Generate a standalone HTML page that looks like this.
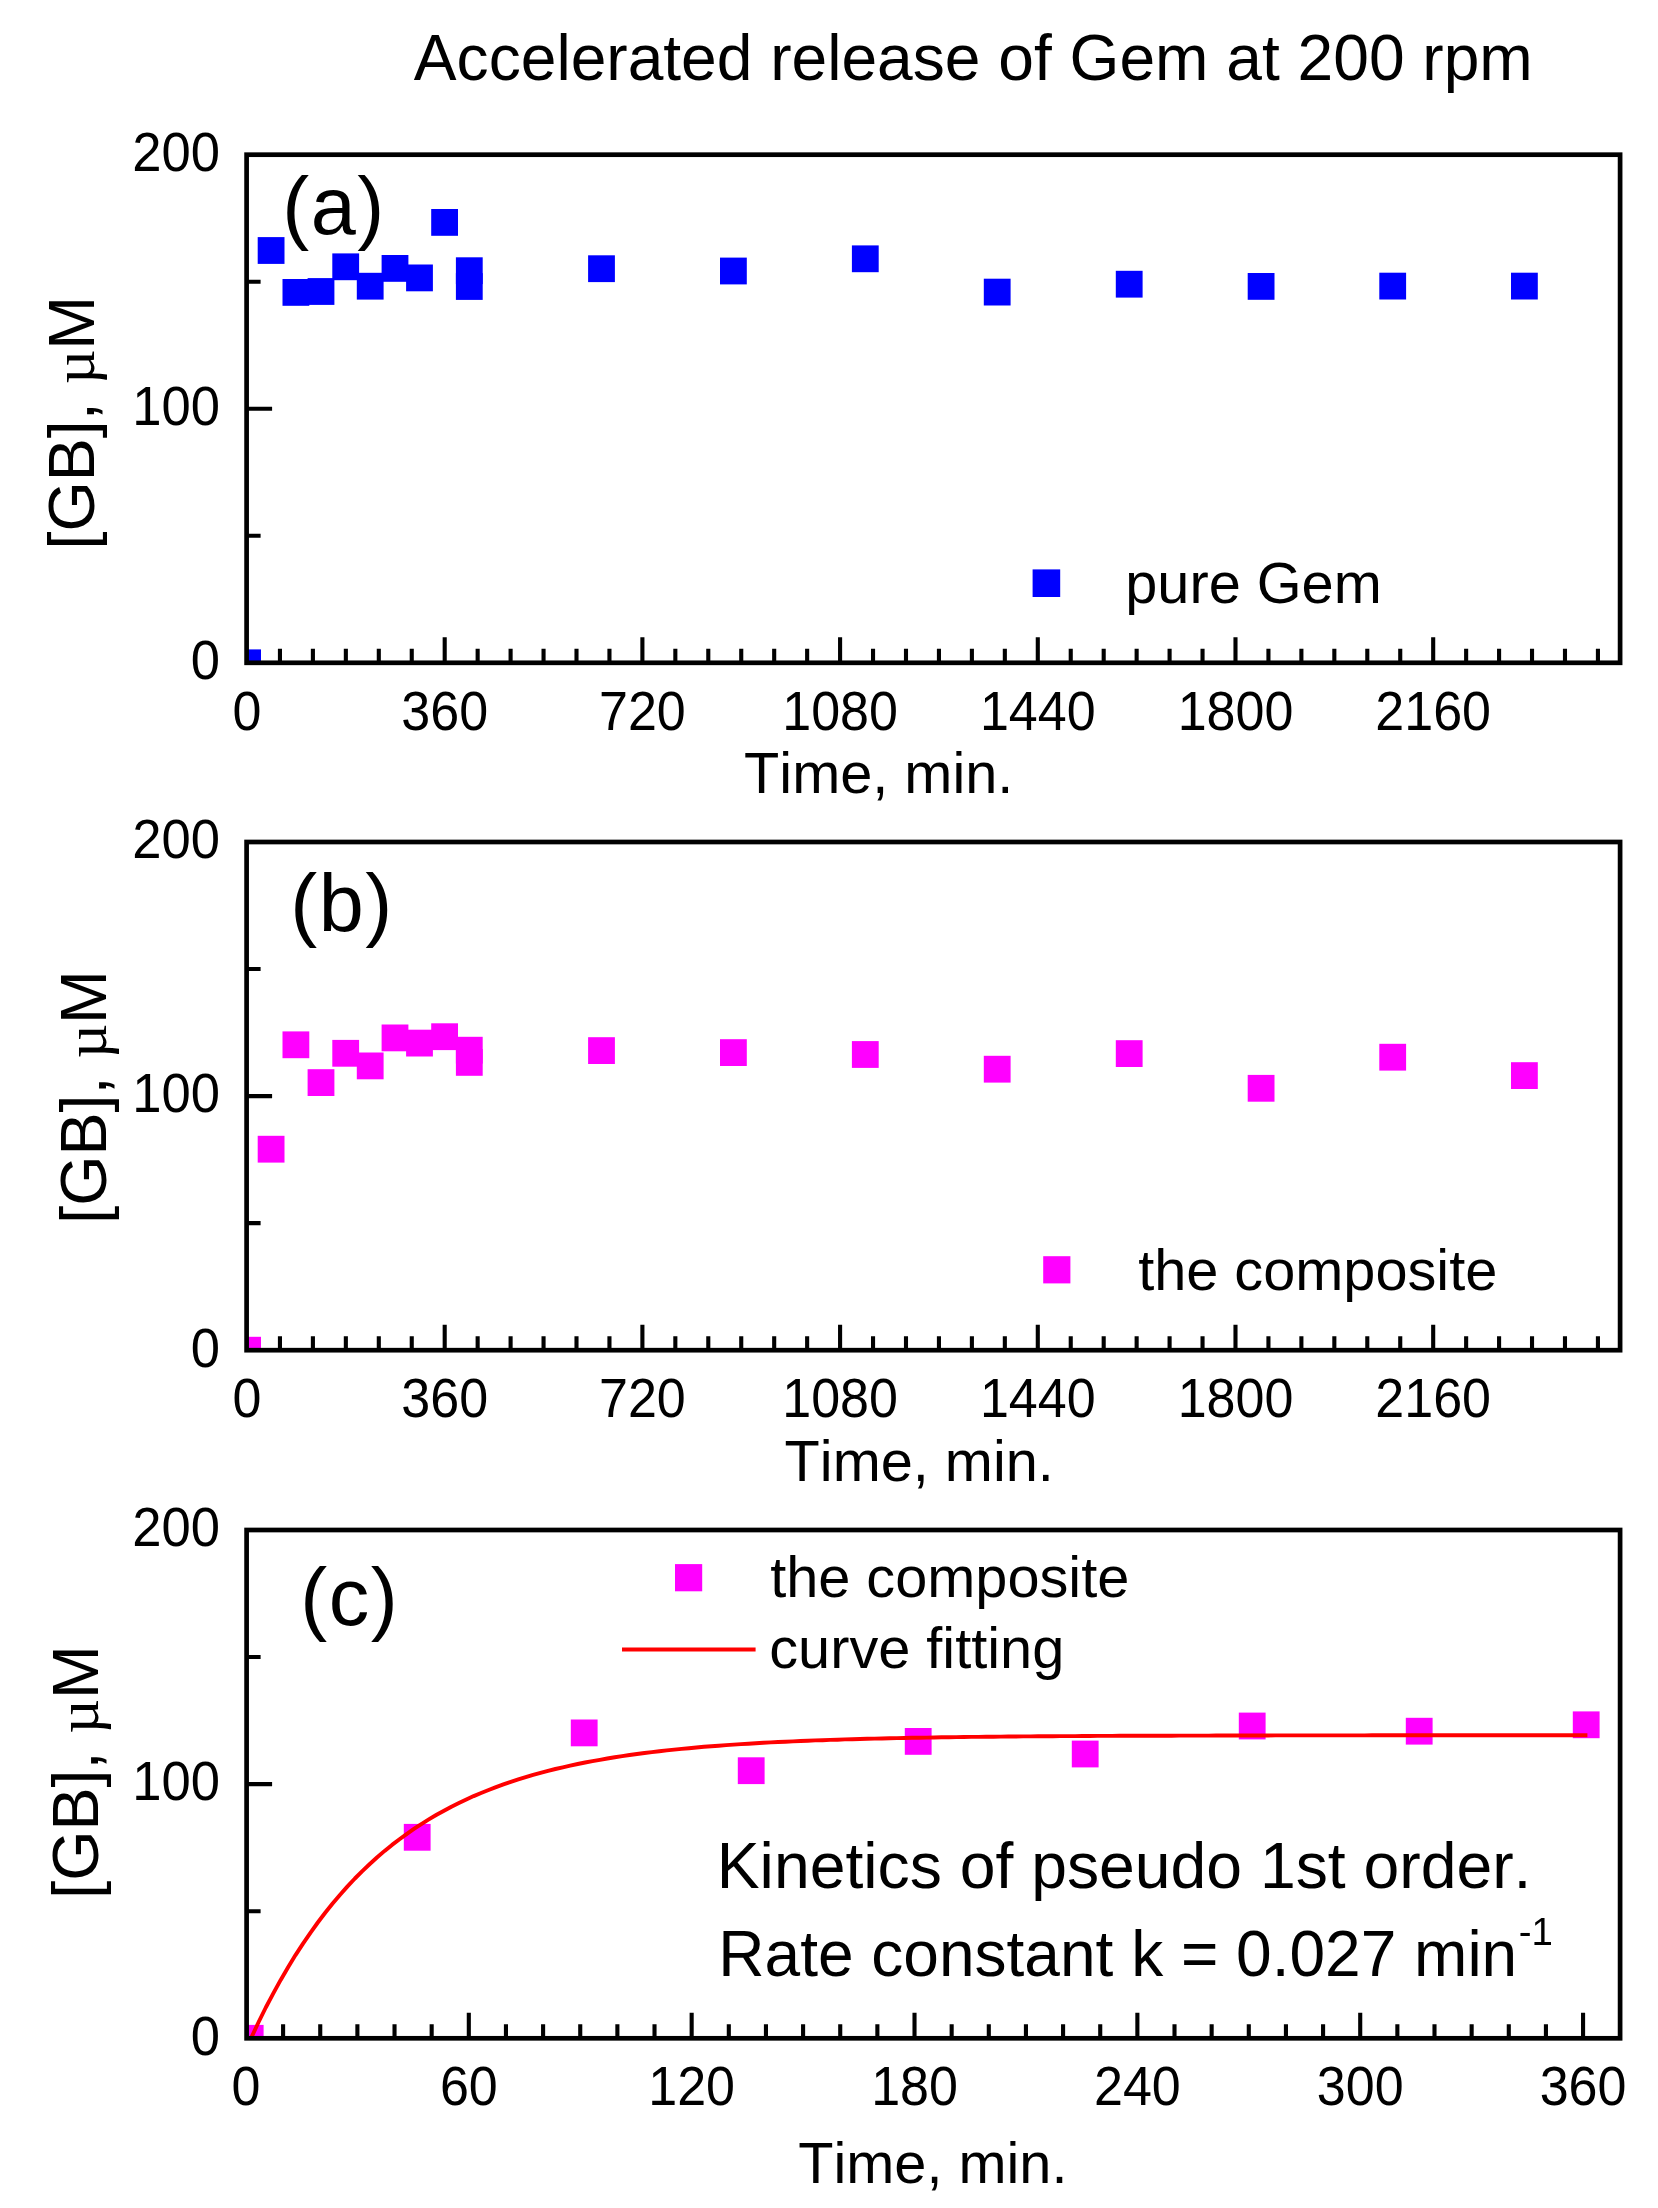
<!DOCTYPE html>
<html lang="en"><head><meta charset="utf-8"><title>Accelerated release of Gem at 200 rpm</title>
<style>
html,body{margin:0;padding:0;background:#fff}
body{width:1658px;height:2208px;overflow:hidden}
svg{display:block;filter:blur(0.55px)}
svg text{font-family:"Liberation Sans", sans-serif;fill:#000;font-kerning:none;white-space:pre}
</style></head><body>
<svg width="1658" height="2208" viewBox="0 0 1658 2208">
<rect width="1658" height="2208" fill="#fff"/>
<text x="413.87" y="80.40" font-size="64.13">Accelerated release of Gem at 200 rpm</text>
<g id="panel-a">
<clipPath id="clipa"><rect x="246.6" y="154.7" width="1373.5" height="508.09999999999997"/></clipPath>
<g clip-path="url(#clipa)">
<rect x="234.20" y="649.40" width="26.80" height="26.80" fill="#0000ff"/>
<rect x="257.70" y="237.10" width="26.80" height="26.80" fill="#0000ff"/>
<rect x="282.50" y="279.00" width="26.80" height="26.80" fill="#0000ff"/>
<rect x="307.60" y="278.10" width="26.80" height="26.80" fill="#0000ff"/>
<rect x="332.30" y="253.40" width="26.80" height="26.80" fill="#0000ff"/>
<rect x="356.80" y="272.80" width="26.80" height="26.80" fill="#0000ff"/>
<rect x="381.60" y="255.00" width="26.80" height="26.80" fill="#0000ff"/>
<rect x="406.10" y="264.50" width="26.80" height="26.80" fill="#0000ff"/>
<rect x="431.20" y="209.00" width="26.80" height="26.80" fill="#0000ff"/>
<rect x="455.90" y="257.30" width="26.80" height="26.80" fill="#0000ff"/>
<rect x="455.90" y="273.10" width="26.80" height="26.80" fill="#0000ff"/>
<rect x="588.10" y="255.30" width="26.80" height="26.80" fill="#0000ff"/>
<rect x="720.00" y="257.60" width="26.80" height="26.80" fill="#0000ff"/>
<rect x="851.90" y="245.40" width="26.80" height="26.80" fill="#0000ff"/>
<rect x="983.80" y="278.70" width="26.80" height="26.80" fill="#0000ff"/>
<rect x="1115.80" y="270.80" width="26.80" height="26.80" fill="#0000ff"/>
<rect x="1247.70" y="273.00" width="26.80" height="26.80" fill="#0000ff"/>
<rect x="1379.30" y="272.70" width="26.80" height="26.80" fill="#0000ff"/>
<rect x="1511.00" y="272.70" width="26.80" height="26.80" fill="#0000ff"/>
</g>
<path d="M279.95 662.80V648.80M312.90 662.80V648.80M345.85 662.80V648.80M378.80 662.80V648.80M411.75 662.80V648.80M444.70 662.80V637.30M477.65 662.80V648.80M510.60 662.80V648.80M543.55 662.80V648.80M576.50 662.80V648.80M609.45 662.80V648.80M642.40 662.80V637.30M675.34 662.80V648.80M708.29 662.80V648.80M741.24 662.80V648.80M774.19 662.80V648.80M807.14 662.80V648.80M840.09 662.80V637.30M873.04 662.80V648.80M905.99 662.80V648.80M938.94 662.80V648.80M971.89 662.80V648.80M1004.84 662.80V648.80M1037.79 662.80V637.30M1070.74 662.80V648.80M1103.69 662.80V648.80M1136.64 662.80V648.80M1169.59 662.80V648.80M1202.54 662.80V648.80M1235.49 662.80V637.30M1268.44 662.80V648.80M1301.39 662.80V648.80M1334.34 662.80V648.80M1367.29 662.80V648.80M1400.24 662.80V648.80M1433.19 662.80V637.30M1466.14 662.80V648.80M1499.08 662.80V648.80M1532.03 662.80V648.80M1564.98 662.80V648.80M1597.93 662.80V648.80M246.60 535.77H260.60M246.60 408.75H272.10M246.60 281.72H260.60" fill="none" stroke="#000" stroke-width="4.1"/>
<rect x="246.60" y="154.70" width="1373.50" height="508.10" fill="none" stroke="#000" stroke-width="4.7"/>
<text transform="translate(132.29 171.00) scale(1 1.045)" font-size="52.60">200</text>
<text transform="translate(132.29 425.05) scale(1 1.045)" font-size="52.60">100</text>
<text transform="translate(190.80 679.10) scale(1 1.045)" font-size="52.60">0</text>
<text transform="translate(232.54 729.70) scale(1 1.06)" font-size="52.0">0</text>
<text transform="translate(401.32 729.70) scale(1 1.06)" font-size="52.0">360</text>
<text transform="translate(599.02 729.70) scale(1 1.06)" font-size="52.0">720</text>
<text transform="translate(782.25 729.70) scale(1 1.06)" font-size="52.0">1080</text>
<text transform="translate(979.95 729.70) scale(1 1.06)" font-size="52.0">1440</text>
<text transform="translate(1177.65 729.70) scale(1 1.06)" font-size="52.0">1800</text>
<text transform="translate(1375.35 729.70) scale(1 1.06)" font-size="52.0">2160</text>
<text x="744.10" y="793.30" font-size="57.70">Time, min.</text>
<text x="282.28" y="234.00" font-size="81.00" letter-spacing="1.5">(a)</text>
<rect x="1032.60" y="569.40" width="27.60" height="27.60" fill="#0000ff"/>
<text x="1125.28" y="603.20" font-size="57.70">pure Gem</text>
<text transform="translate(94.1 549.41) rotate(-90)" font-size="64.6">[GB], <tspan font-family="'Liberation Serif', serif" font-size="60.1">µ</tspan>M</text>
</g>
<g id="panel-b">
<clipPath id="clipb"><rect x="246.6" y="842.0" width="1373.5" height="508.20000000000005"/></clipPath>
<g clip-path="url(#clipb)">
<rect x="234.20" y="1336.80" width="26.80" height="26.80" fill="#ff00ff"/>
<rect x="257.70" y="1135.80" width="26.80" height="26.80" fill="#ff00ff"/>
<rect x="282.50" y="1031.40" width="26.80" height="26.80" fill="#ff00ff"/>
<rect x="307.60" y="1069.20" width="26.80" height="26.80" fill="#ff00ff"/>
<rect x="332.30" y="1039.90" width="26.80" height="26.80" fill="#ff00ff"/>
<rect x="356.80" y="1052.50" width="26.80" height="26.80" fill="#ff00ff"/>
<rect x="381.60" y="1024.50" width="26.80" height="26.80" fill="#ff00ff"/>
<rect x="406.10" y="1029.70" width="26.80" height="26.80" fill="#ff00ff"/>
<rect x="431.20" y="1023.30" width="26.80" height="26.80" fill="#ff00ff"/>
<rect x="455.90" y="1036.80" width="26.80" height="26.80" fill="#ff00ff"/>
<rect x="455.90" y="1049.00" width="26.80" height="26.80" fill="#ff00ff"/>
<rect x="588.10" y="1037.20" width="26.80" height="26.80" fill="#ff00ff"/>
<rect x="720.00" y="1039.20" width="26.80" height="26.80" fill="#ff00ff"/>
<rect x="851.90" y="1041.10" width="26.80" height="26.80" fill="#ff00ff"/>
<rect x="983.80" y="1055.80" width="26.80" height="26.80" fill="#ff00ff"/>
<rect x="1115.80" y="1040.20" width="26.80" height="26.80" fill="#ff00ff"/>
<rect x="1247.70" y="1074.90" width="26.80" height="26.80" fill="#ff00ff"/>
<rect x="1379.30" y="1043.80" width="26.80" height="26.80" fill="#ff00ff"/>
<rect x="1511.00" y="1062.20" width="26.80" height="26.80" fill="#ff00ff"/>
</g>
<path d="M279.95 1350.20V1336.20M312.90 1350.20V1336.20M345.85 1350.20V1336.20M378.80 1350.20V1336.20M411.75 1350.20V1336.20M444.70 1350.20V1324.70M477.65 1350.20V1336.20M510.60 1350.20V1336.20M543.55 1350.20V1336.20M576.50 1350.20V1336.20M609.45 1350.20V1336.20M642.40 1350.20V1324.70M675.34 1350.20V1336.20M708.29 1350.20V1336.20M741.24 1350.20V1336.20M774.19 1350.20V1336.20M807.14 1350.20V1336.20M840.09 1350.20V1324.70M873.04 1350.20V1336.20M905.99 1350.20V1336.20M938.94 1350.20V1336.20M971.89 1350.20V1336.20M1004.84 1350.20V1336.20M1037.79 1350.20V1324.70M1070.74 1350.20V1336.20M1103.69 1350.20V1336.20M1136.64 1350.20V1336.20M1169.59 1350.20V1336.20M1202.54 1350.20V1336.20M1235.49 1350.20V1324.70M1268.44 1350.20V1336.20M1301.39 1350.20V1336.20M1334.34 1350.20V1336.20M1367.29 1350.20V1336.20M1400.24 1350.20V1336.20M1433.19 1350.20V1324.70M1466.14 1350.20V1336.20M1499.08 1350.20V1336.20M1532.03 1350.20V1336.20M1564.98 1350.20V1336.20M1597.93 1350.20V1336.20M246.60 1223.15H260.60M246.60 1096.10H272.10M246.60 969.05H260.60" fill="none" stroke="#000" stroke-width="4.1"/>
<rect x="246.60" y="842.00" width="1373.50" height="508.20" fill="none" stroke="#000" stroke-width="4.7"/>
<text transform="translate(132.29 858.30) scale(1 1.045)" font-size="52.60">200</text>
<text transform="translate(132.29 1112.40) scale(1 1.045)" font-size="52.60">100</text>
<text transform="translate(190.80 1366.50) scale(1 1.045)" font-size="52.60">0</text>
<text transform="translate(232.54 1417.10) scale(1 1.06)" font-size="52.0">0</text>
<text transform="translate(401.32 1417.10) scale(1 1.06)" font-size="52.0">360</text>
<text transform="translate(599.02 1417.10) scale(1 1.06)" font-size="52.0">720</text>
<text transform="translate(782.25 1417.10) scale(1 1.06)" font-size="52.0">1080</text>
<text transform="translate(979.95 1417.10) scale(1 1.06)" font-size="52.0">1440</text>
<text transform="translate(1177.65 1417.10) scale(1 1.06)" font-size="52.0">1800</text>
<text transform="translate(1375.35 1417.10) scale(1 1.06)" font-size="52.0">2160</text>
<text x="784.60" y="1480.90" font-size="57.70">Time, min.</text>
<text x="290.28" y="931.00" font-size="81.00" letter-spacing="1.5">(b)</text>
<rect x="1043.20" y="1256.20" width="27.20" height="27.20" fill="#ff00ff"/>
<text x="1138.13" y="1289.80" font-size="57.70">the composite</text>
<text transform="translate(106.3 1223.71) rotate(-90)" font-size="64.6">[GB], <tspan font-family="'Liberation Serif', serif" font-size="60.1">µ</tspan>M</text>
</g>
<g id="panel-c">
<clipPath id="clipc"><rect x="246.6" y="1530.0" width="1373.5" height="508.29999999999995"/></clipPath>
<g clip-path="url(#clipc)">
<rect x="236.80" y="2024.90" width="26.80" height="26.80" fill="#ff00ff"/>
<rect x="403.80" y="1823.90" width="26.80" height="26.80" fill="#ff00ff"/>
<rect x="570.80" y="1719.50" width="26.80" height="26.80" fill="#ff00ff"/>
<rect x="737.80" y="1757.30" width="26.80" height="26.80" fill="#ff00ff"/>
<rect x="904.80" y="1728.00" width="26.80" height="26.80" fill="#ff00ff"/>
<rect x="1071.80" y="1740.60" width="26.80" height="26.80" fill="#ff00ff"/>
<rect x="1238.80" y="1712.60" width="26.80" height="26.80" fill="#ff00ff"/>
<rect x="1405.80" y="1717.80" width="26.80" height="26.80" fill="#ff00ff"/>
<rect x="1572.80" y="1711.40" width="26.80" height="26.80" fill="#ff00ff"/>
<polyline points="251.0,2038.3 258.4,2022.5 265.8,2007.5 273.3,1993.4 280.7,1979.9 288.1,1967.2 295.5,1955.1 303.0,1943.6 310.4,1932.8 317.8,1922.5 325.2,1912.7 332.6,1903.5 340.1,1894.7 347.5,1886.4 354.9,1878.5 362.3,1871.1 369.8,1864.0 377.2,1857.3 384.6,1850.9 392.0,1844.9 399.5,1839.2 406.9,1833.8 414.3,1828.7 421.7,1823.8 429.2,1819.2 436.6,1814.8 444.0,1810.7 451.4,1806.7 458.9,1803.0 466.3,1799.5 473.7,1796.1 481.1,1793.0 488.6,1790.0 496.0,1787.1 503.4,1784.4 510.8,1781.8 518.3,1779.4 525.7,1777.1 533.1,1774.9 540.5,1772.9 548.0,1770.9 555.4,1769.0 562.8,1767.3 570.2,1765.6 577.7,1764.0 585.1,1762.5 592.5,1761.1 599.9,1759.8 607.3,1758.5 614.8,1757.3 622.2,1756.1 629.6,1755.0 637.0,1754.0 644.5,1753.0 651.9,1752.1 659.3,1751.2 666.7,1750.4 674.2,1749.6 681.6,1748.9 689.0,1748.2 696.4,1747.5 703.9,1746.8 711.3,1746.2 718.7,1745.7 726.1,1745.1 733.6,1744.6 741.0,1744.1 748.4,1743.7 755.8,1743.2 763.3,1742.8 770.7,1742.4 778.1,1742.0 785.5,1741.7 793.0,1741.4 800.4,1741.0 807.8,1740.7 815.2,1740.4 822.7,1740.2 830.1,1739.9 837.5,1739.7 844.9,1739.4 852.4,1739.2 859.8,1739.0 867.2,1738.8 874.6,1738.6 882.0,1738.5 889.5,1738.3 896.9,1738.1 904.3,1738.0 911.7,1737.8 919.2,1737.7 926.6,1737.6 934.0,1737.5 941.4,1737.3 948.9,1737.2 956.3,1737.1 963.7,1737.0 971.1,1736.9 978.6,1736.9 986.0,1736.8 993.4,1736.7 1000.8,1736.6 1008.3,1736.5 1015.7,1736.5 1023.1,1736.4 1030.5,1736.4 1038.0,1736.3 1045.4,1736.2 1052.8,1736.2 1060.2,1736.1 1067.7,1736.1 1075.1,1736.1 1082.5,1736.0 1089.9,1736.0 1097.4,1735.9 1104.8,1735.9 1112.2,1735.9 1119.6,1735.8 1127.1,1735.8 1134.5,1735.8 1141.9,1735.7 1149.3,1735.7 1156.7,1735.7 1164.2,1735.7 1171.6,1735.7 1179.0,1735.6 1186.4,1735.6 1193.9,1735.6 1201.3,1735.6 1208.7,1735.6 1216.1,1735.5 1223.6,1735.5 1231.0,1735.5 1238.4,1735.5 1245.8,1735.5 1253.3,1735.5 1260.7,1735.5 1268.1,1735.5 1275.5,1735.4 1283.0,1735.4 1290.4,1735.4 1297.8,1735.4 1305.2,1735.4 1312.7,1735.4 1320.1,1735.4 1327.5,1735.4 1334.9,1735.4 1342.4,1735.4 1349.8,1735.4 1357.2,1735.4 1364.6,1735.4 1372.1,1735.3 1379.5,1735.3 1386.9,1735.3 1394.3,1735.3 1401.8,1735.3 1409.2,1735.3 1416.6,1735.3 1424.0,1735.3 1431.4,1735.3 1438.9,1735.3 1446.3,1735.3 1453.7,1735.3 1461.1,1735.3 1468.6,1735.3 1476.0,1735.3 1483.4,1735.3 1490.8,1735.3 1498.3,1735.3 1505.7,1735.3 1513.1,1735.3 1520.5,1735.3 1528.0,1735.3 1535.4,1735.3 1542.8,1735.3 1550.2,1735.3 1557.7,1735.3 1565.1,1735.3 1572.5,1735.3 1579.9,1735.3 1587.4,1735.3" fill="none" stroke="#ff0000" stroke-width="3.9" stroke-linejoin="round"/>
</g>
<path d="M283.10 2038.30V2024.30M320.24 2038.30V2024.30M357.39 2038.30V2024.30M394.53 2038.30V2024.30M431.67 2038.30V2024.30M468.81 2038.30V2012.80M505.95 2038.30V2024.30M543.10 2038.30V2024.30M580.24 2038.30V2024.30M617.38 2038.30V2024.30M654.52 2038.30V2024.30M691.66 2038.30V2012.80M728.81 2038.30V2024.30M765.95 2038.30V2024.30M803.09 2038.30V2024.30M840.23 2038.30V2024.30M877.37 2038.30V2024.30M914.52 2038.30V2012.80M951.66 2038.30V2024.30M988.80 2038.30V2024.30M1025.94 2038.30V2024.30M1063.08 2038.30V2024.30M1100.23 2038.30V2024.30M1137.37 2038.30V2012.80M1174.51 2038.30V2024.30M1211.65 2038.30V2024.30M1248.79 2038.30V2024.30M1285.94 2038.30V2024.30M1323.08 2038.30V2024.30M1360.22 2038.30V2012.80M1397.36 2038.30V2024.30M1434.50 2038.30V2024.30M1471.65 2038.30V2024.30M1508.79 2038.30V2024.30M1545.93 2038.30V2024.30M1583.07 2038.30V2012.80M246.60 1911.22H260.60M246.60 1784.15H272.10M246.60 1657.07H260.60" fill="none" stroke="#000" stroke-width="4.1"/>
<rect x="246.60" y="1530.00" width="1373.50" height="508.30" fill="none" stroke="#000" stroke-width="4.7"/>
<text transform="translate(132.29 1546.30) scale(1 1.045)" font-size="52.60">200</text>
<text transform="translate(132.29 1800.45) scale(1 1.045)" font-size="52.60">100</text>
<text transform="translate(190.80 2054.60) scale(1 1.045)" font-size="52.60">0</text>
<text transform="translate(231.50 2105.20) scale(1 1.06)" font-size="52.0">0</text>
<text transform="translate(439.89 2105.20) scale(1 1.06)" font-size="52.0">60</text>
<text transform="translate(648.28 2105.20) scale(1 1.06)" font-size="52.0">120</text>
<text transform="translate(871.14 2105.20) scale(1 1.06)" font-size="52.0">180</text>
<text transform="translate(1093.99 2105.20) scale(1 1.06)" font-size="52.0">240</text>
<text transform="translate(1316.84 2105.20) scale(1 1.06)" font-size="52.0">300</text>
<text transform="translate(1539.69 2105.20) scale(1 1.06)" font-size="52.0">360</text>
<text x="798.20" y="2183.00" font-size="57.70">Time, min.</text>
<text x="300.28" y="1625.20" font-size="81.00" letter-spacing="1.5">(c)</text>
<rect x="675.00" y="1564.10" width="27.20" height="27.20" fill="#ff00ff"/>
<text x="770.13" y="1596.80" font-size="57.70">the composite</text>
<line x1="622" y1="1649.5" x2="755.6" y2="1649.5" stroke="#ff0000" stroke-width="4.2"/>
<text x="769.25" y="1668.10" font-size="57.70">curve fitting</text>
<text x="716.73" y="1887.80" font-size="64.29">Kinetics of pseudo 1st order.</text>
<text x="718.35" y="1975.6" font-size="64.03">Rate constant k = 0.027 min<tspan dy="-31" dx="1.5" font-size="38.42">-1</tspan></text>
<text transform="translate(98.2 1898.81) rotate(-90)" font-size="64.6">[GB], <tspan font-family="'Liberation Serif', serif" font-size="60.1">µ</tspan>M</text>
</g>
</svg>
</body></html>
